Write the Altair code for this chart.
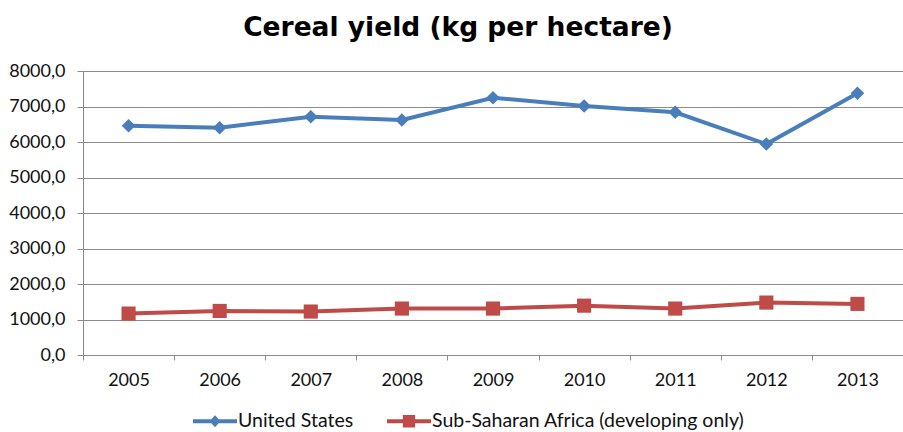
import altair as alt
import pandas as pd

years = ["2005", "2006", "2007", "2008", "2009", "2010", "2011", "2012", "2013"]
us_values = [6458, 6402, 6712, 6619, 7248, 7013, 6836, 5942, 7372]
ssa_values = [1167, 1241, 1224, 1308, 1308, 1390, 1308, 1477, 1440]
series_names = ["United States", "Sub-Saharan Africa (developing only)"]
series_colors = ["#4A7EBB", "#BE4B48"]
y_ticks = [0, 1000, 2000, 3000, 4000, 5000, 6000, 7000, 8000]

rows = []
for name, vals in zip(series_names, [us_values, ssa_values]):
    for yr, v in zip(years, vals):
        rows.append({"year": yr, "value": v, "series": name})
df = pd.DataFrame(rows)

FONT = "Lato"
GRID = "#8a8a8a"

color = alt.Color(
    "series:N",
    scale=alt.Scale(domain=series_names, range=series_colors),
    legend=None,
)
x = alt.X(
    "year:N",
    bandPosition=0.5,
    scale=alt.Scale(type="band", paddingInner=0, paddingOuter=0),
    axis=alt.Axis(
        title=None, labelAngle=0, tickBand="extent", tickSize=5,
        domainColor=GRID, tickColor=GRID, labelFontSize=18, labelColor="#111",
        labelPadding=11, grid=False, labelFont=FONT,
    ),
)
y = alt.Y(
    "value:Q",
    scale=alt.Scale(domain=[0, 8000], nice=False),
    axis=alt.Axis(
        title=None, values=y_ticks, grid=True, gridColor=GRID,
        domainColor=GRID, tickColor=GRID, tickSize=6, labelPadding=12,
        labelFontSize=18, labelColor="#111", labelFont=FONT,
        labelExpr="replace(format(datum.value, '.1f'), '.', ',')",
    ),
)

base = alt.Chart(df)

legend_paths = [
    "M-1,-0.09H1V0.09H-1Z M0,-0.27L0.25,0L0,0.27L-0.25,0Z",
    "M-1,-0.09H1V0.09H-1Z M-0.28,-0.28H0.28V0.28H-0.28Z",
]
lg = alt.Legend(
    title=None, orient="none", direction="horizontal",
    legendX=110, legendY=328, labelFontSize=19.5, labelFont=FONT,
    labelColor="#111", labelLimit=600, symbolSize=1936,
    symbolStrokeWidth=0, columnPadding=33, labelOffset=1,
)
legend_layer = base.mark_point(filled=True, opacity=1, size=1).encode(
    x=x, y=y,
    color=alt.Color("series:N", scale=alt.Scale(domain=series_names, range=series_colors), legend=lg),
    shape=alt.Shape("series:N", scale=alt.Scale(domain=series_names, range=legend_paths), legend=lg),
)

lines = base.mark_line(strokeWidth=4).encode(x=x, y=y, color=color, detail="series:N")
pts_us = base.transform_filter(alt.datum.series == series_names[0]).mark_point(
    shape="diamond", filled=True, size=185, opacity=1
).encode(x=x, y=y, color=color)
pts_ssa = base.transform_filter(alt.datum.series == series_names[1]).mark_point(
    shape="square", filled=True, size=200, opacity=1
).encode(x=x, y=y, color=color)

chart = alt.layer(legend_layer, lines, pts_us, pts_ssa).properties(
    width=820,
    height=284,
    title=alt.TitleParams(
        "Cereal yield (kg per hectare)", font="DejaVu Sans", fontSize=26.5,
        fontWeight="bold", color="#000", anchor="middle", dx=-35, offset=21,
    ),
    autosize=alt.AutoSizeParams(type="none"),
    padding={"left": 83, "top": 71, "right": 0, "bottom": 77},
).configure_view(stroke=None).configure(font=FONT, background="white")

chart.save("out.html", embed_options={"renderer": "svg", "actions": False})
